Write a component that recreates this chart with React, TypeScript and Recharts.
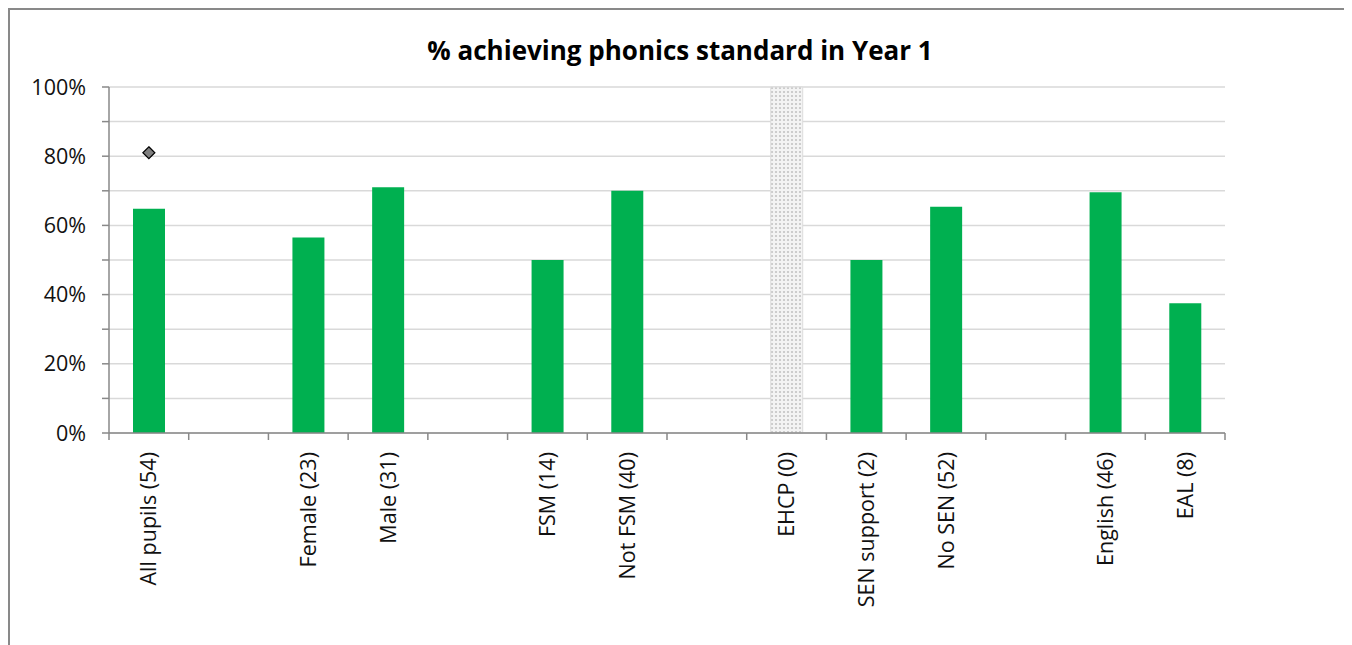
import { Bar, CartesianGrid, ComposedChart, Line, XAxis, YAxis } from 'recharts';

const categories = [
  'All pupils (54)',
  '',
  'Female (23)',
  'Male (31)',
  '',
  'FSM (14)',
  'Not FSM (40)',
  '',
  'EHCP (0)',
  'SEN support (2)',
  'No SEN (52)',
  '',
  'English (46)',
  'EAL (8)',
];
const achieved = [0.648, null, 0.565, 0.71, null, 0.5, 0.7, null, null, 0.5, 0.654, null, 0.696, 0.375];
const noData = [null, null, null, null, null, null, null, null, 1, null, null, null, null, null];
const national = [0.81, null, null, null, null, null, null, null, null, null, null, null, null, null];
const yTicks = [0, 0.1, 0.2, 0.3, 0.4, 0.5, 0.6, 0.7, 0.8, 0.9, 1];

const data = categories.map((name, i) => ({
  name,
  achieved: achieved[i],
  noData: noData[i],
  national: national[i],
}));

const FONT = '"Open Sans", "Noto Sans", sans-serif';
const AXIS = '#898989';
const BAND = (1225 - 109) / categories.length;

function CategoryTick(props: any) {
  const { x, y, payload, index } = props;
  const left = x - BAND / 2;
  return (
    <g>
      <line x1={left} y1={y} x2={left} y2={y + 7} stroke={AXIS} strokeWidth={1.5} />
      {index === categories.length - 1 && (
        <line x1={x + BAND / 2} y1={y} x2={x + BAND / 2} y2={y + 7} stroke={AXIS} strokeWidth={1.5} />
      )}
      {payload.value && (
        <text
          x={x}
          y={y + 19}
          transform={`rotate(-90, ${x}, ${y + 19})`}
          textAnchor="end"
          dy="0.35em"
          fontSize={21.5}
          fontFamily={FONT}
          fill="#111"
        >
          {payload.value}
        </text>
      )}
    </g>
  );
}

function Diamond(props: any) {
  const { cx, cy } = props;
  if (cx == null || cy == null) return <g key={props.index} />;
  return (
    <polygon
      key={props.index}
      points={`${cx},${cy - 6} ${cx + 6},${cy} ${cx},${cy + 6} ${cx - 6},${cy}`}
      fill="#7f7f7f"
      stroke="#000"
      strokeWidth={1.2}
    />
  );
}

export default function App() {
  return (
    <div
      style={{
        position: 'relative',
        width: 1340,
        height: 660,
        border: '2px solid #898989',
        borderBottom: 'none',
        background: '#fff',
      }}
    >
      <svg width={0} height={0} style={{ position: 'absolute' }}>
        <defs>
          <pattern id="dots" width={4} height={4} patternUnits="userSpaceOnUse">
            <rect width={4} height={4} fill="#f4f4f4" />
            <circle cx={2} cy={2} r={1.1} fill="#c4c4c4" />
          </pattern>
        </defs>
      </svg>
      <div
        style={{
          position: 'absolute',
          top: 23,
          left: 0,
          right: 0,
          textAlign: 'center',
          fontFamily: FONT,
          fontWeight: 'bold',
          fontSize: 26,
          lineHeight: '34px',
          color: '#000',
        }}
      >
        % achieving phonics standard in Year 1
      </div>
      <ComposedChart
        width={1338}
        height={640}
        data={data}
        margin={{ top: 77, right: 123, bottom: 37, left: 39 }}
      >
        <CartesianGrid horizontal vertical={false} stroke="#d9d9d9" strokeWidth={1.5} />
        <XAxis
          dataKey="name"
          height={180}
          interval={0}
          tickSize={0}
          tickMargin={0}
          tickLine={false}
          axisLine={{ stroke: AXIS, strokeWidth: 1.5 }}
          tick={<CategoryTick />}
        />
        <YAxis
          width={60}
          domain={[0, 1]}
          ticks={yTicks}
          interval={0}
          tickSize={7}
          tickMargin={16}
          axisLine={{ stroke: AXIS, strokeWidth: 1.5 }}
          tickLine={{ stroke: AXIS, strokeWidth: 1.5 }}
          tickFormatter={(v: number) => (Math.round(v * 100) % 20 === 0 ? `${Math.round(v * 100)}%` : '')}
          tick={{ fontSize: 21.5, fontFamily: FONT, fill: '#111' }}
        />
        <Bar dataKey="achieved" stackId="a" fill="#00b050" barSize={32} isAnimationActive={false} />
        <Bar
          dataKey="noData"
          stackId="a"
          fill="url(#dots)"
          stroke="#dcdcdc"
          barSize={32}
          isAnimationActive={false}
        />
        <Line
          dataKey="national"
          stroke="none"
          dot={<Diamond />}
          activeDot={false}
          connectNulls={false}
          isAnimationActive={false}
        />
      </ComposedChart>
    </div>
  );
}
